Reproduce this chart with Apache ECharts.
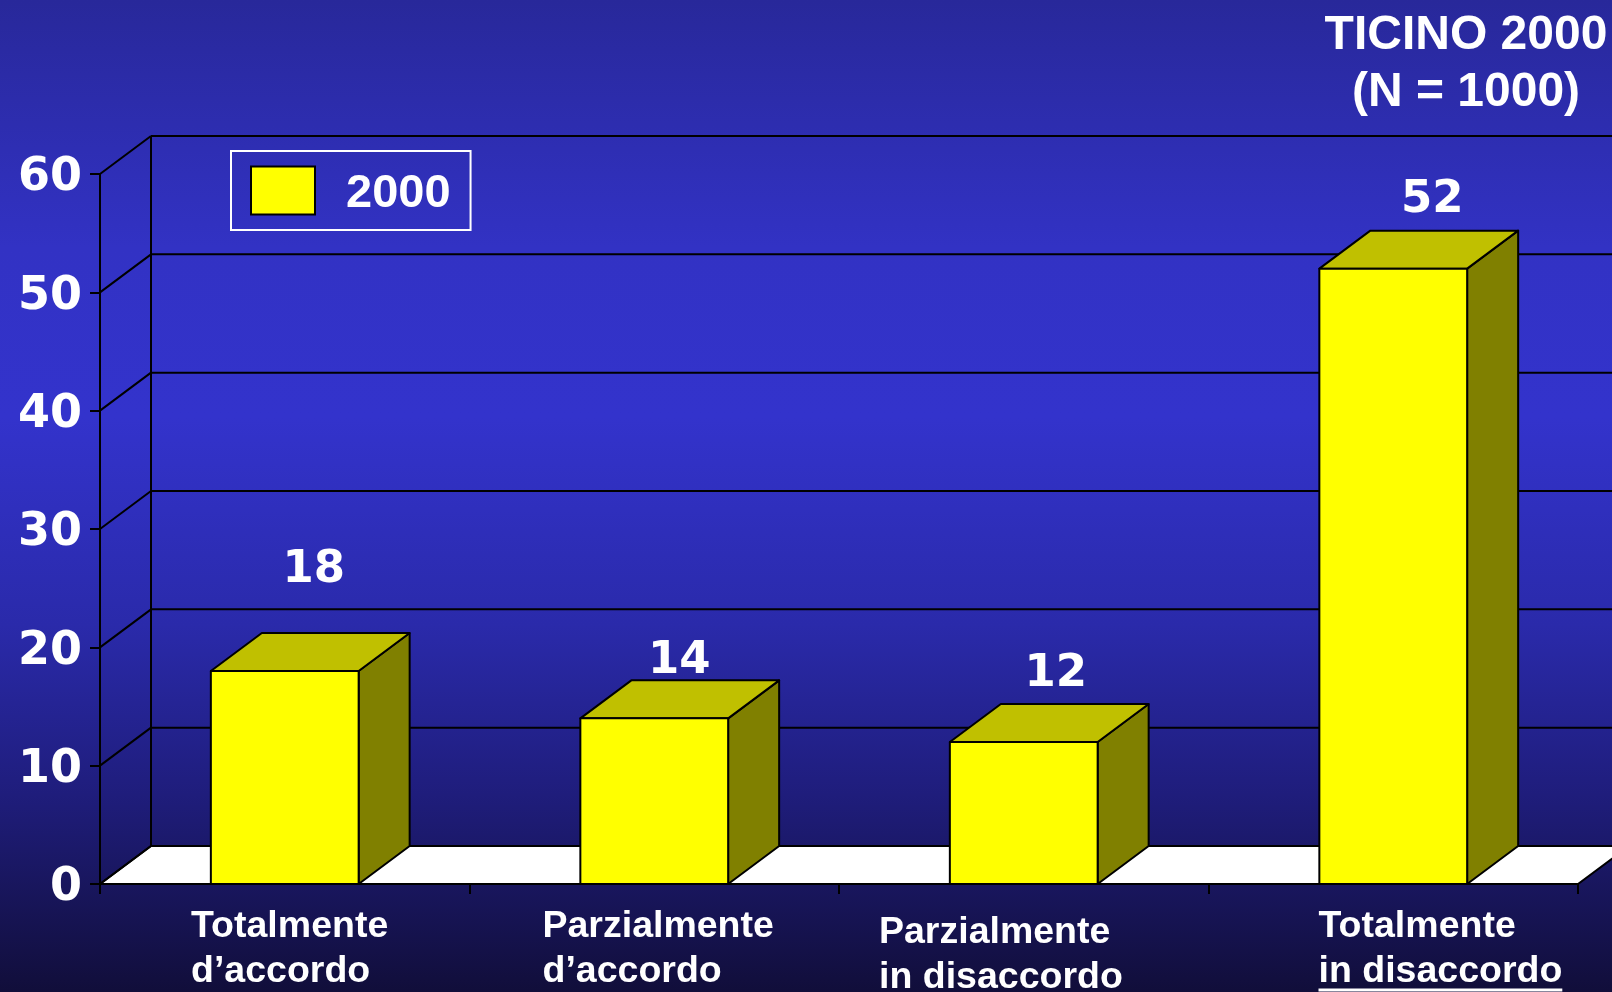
<!DOCTYPE html>
<html>
<head>
<meta charset="utf-8">
<script src="https://cdn.jsdelivr.net/npm/echarts@6/dist/echarts.min.js"></script>
<style>
html, body { margin: 0; padding: 0; }
#chart { width: 1612px; height: 992px; }
</style>
</head>
<body>
<div id="chart"></div>
<script>
// data
var categories = [
	['Totalmente', 'd\u2019accordo'],
	['Parzialmente', 'd\u2019accordo'],
	['Parzialmente', 'in disaccordo'],
	['Totalmente', 'in disaccordo']
];
var values2000 = [18, 14, 12, 52];
var yTicks = [0, 10, 20, 30, 40, 50, 60];
var seriesName = '2000';
var titleLines = ['TICINO 2000', '(N = 1000)'];

// 3d depth of the walls and bars
var DX = 51, DY = -38;
// hand placed label shifts as in the original slide
var valueLabelShift = [[29, -101], [25, -57], [32, -68], [39, -68]];
var catLabelLeft = [91, 73, 40, 110];
var catLabelTop = [0, 0, 6, 0];

var catFont = 'bold 37.5px "Liberation Sans", Arial, sans-serif';
var measureCtx = document.createElement('canvas').getContext('2d');
measureCtx.font = catFont;

var chart = echarts.init(document.getElementById('chart'));

function renderFrame(params, api) {
	var cs = params.coordSys;
	var x0 = cs.x, x1 = cs.x + cs.width;
	var yBottom = cs.y + cs.height;
	var children = [];
	var line = function(ax, ay, bx, by) {
		children.push({
			type: 'line',
			shape: { x1: ax, y1: ay, x2: bx, y2: by },
			style: { stroke: '#000', lineWidth: 2 }
		});
	};
	// floor
	children.push({
		type: 'polygon',
		shape: { points: [[x0, yBottom], [x1, yBottom], [x1 + DX, yBottom + DY], [x0 + DX, yBottom + DY]] },
		style: { fill: '#ffffff', stroke: '#000', lineWidth: 2 }
	});
	for (var i = 0; i < yTicks.length; i++) {
		var y = api.coord([0, yTicks[i]])[1];
		line(x0, y, x0 + DX, y + DY);
		line(x0 + DX, y + DY, x1 + DX + 40, y + DY);
	}
	line(x0 + DX, cs.y + DY, x0 + DX, yBottom + DY);
	return { type: 'group', children: children };
}

function renderBar(params, api) {
	var i = api.value(0);
	var top = api.coord([i, api.value(1)]);
	var base = api.coord([i, 0]);
	var band = api.size([1, 0])[0];
	var w = band * 0.4;
	var xl = top[0] - w / 2, xr = top[0] + w / 2;
	var yt = top[1], yb = base[1];
	var edge = { stroke: '#000', lineWidth: 2, lineJoin: 'round' };
	var children = [
		{
			type: 'polygon',
			shape: { points: [[xr, yt], [xr + DX, yt + DY], [xr + DX, yb + DY], [xr, yb]] },
			style: Object.assign({ fill: '#808000' }, edge)
		},
		{
			type: 'polygon',
			shape: { points: [[xl, yt], [xr, yt], [xr + DX, yt + DY], [xl + DX, yt + DY]] },
			style: Object.assign({ fill: '#c0c000' }, edge)
		},
		{
			type: 'rect',
			shape: { x: xl, y: yt, width: w, height: yb - yt },
			style: Object.assign({ fill: '#ffff00' }, edge)
		},
		{
			type: 'text',
			x: top[0] + valueLabelShift[i][0],
			y: yt + valueLabelShift[i][1],
			style: {
				text: String(api.value(1)),
				fill: '#ffffff',
				font: 'bold 45px "DejaVu Sans", Verdana, sans-serif',
				align: 'center',
				verticalAlign: 'middle'
			}
		}
	];
	// category label under the axis
	var lx = base[0] - band / 2 + catLabelLeft[i];
	var ly = yb + 20 + catLabelTop[i];
	children.push({
		type: 'text',
		x: lx,
		y: ly,
		style: {
			text: categories[i].join('\n'),
			fill: '#ffffff',
			font: catFont,
			lineHeight: 45,
			align: 'left',
			verticalAlign: 'top'
		}
	});
	if (i === categories.length - 1) {
		var uw = measureCtx.measureText(categories[i][1]).width;
		children.push({
			type: 'line',
			shape: { x1: lx, y1: ly + 86, x2: lx + uw, y2: ly + 86 },
			style: { stroke: '#ffffff', lineWidth: 3 }
		});
	}
	return { type: 'group', children: children };
}

var option = {
	backgroundColor: {
		type: 'linear', x: 0, y: 0, x2: 0, y2: 1,
		colorStops: [
			{ offset: 0, color: '#28289a' },
			{ offset: 0.25, color: '#3232c4' },
			{ offset: 0.42, color: '#3333cc' },
			{ offset: 0.63, color: '#2a2aaa' },
			{ offset: 0.8, color: '#1f1d7c' },
			{ offset: 1, color: '#110e3a' }
		]
	},
	animation: false,
	graphic: [{
		type: 'text',
		x: 1466,
		y: 7,
		style: {
			text: titleLines.join('\n'),
			fill: '#ffffff',
			font: 'bold 48px "Liberation Sans", Arial, sans-serif',
			lineHeight: 57,
			align: 'center',
			verticalAlign: 'top'
		}
	}],
	legend: {
		left: 231,
		top: 151,
		orient: 'horizontal',
		padding: [12, 20, 12, 19],
		borderColor: '#ffffff',
		borderWidth: 2,
		itemWidth: 64,
		itemHeight: 48,
		data: [{
			name: seriesName,
			icon: 'rect',
			itemStyle: { color: '#ffff00', borderColor: '#000', borderWidth: 2 }
		}],
		formatter: '{t|{name}}',
		textStyle: {
			rich: {
				t: {
					color: '#ffffff',
					fontFamily: '"Liberation Sans", Arial, sans-serif',
					fontWeight: 'bold',
					fontSize: 47,
					lineHeight: 40,
					padding: [8, 0, 0, 26]
				}
			}
		}
	},
	grid: {
		left: 100,
		right: 34,
		top: 174,
		bottom: 108,
		containLabel: false
	},
	xAxis: {
		type: 'category',
		data: categories.map(function(c) { return c.join(' '); }),
		boundaryGap: true,
		axisLine: { lineStyle: { color: '#000', width: 2 } },
		axisTick: { show: true, length: 10, lineStyle: { color: '#000', width: 2 } },
		axisLabel: { show: false },
		splitLine: { show: false }
	},
	yAxis: {
		type: 'value',
		min: 0,
		max: 60,
		interval: 10,
		axisLine: { show: true, lineStyle: { color: '#000', width: 2 } },
		axisTick: { show: true, length: 10, lineStyle: { color: '#000', width: 2 } },
		axisLabel: {
			margin: 18,
			formatter: '{v|{value}}',
			rich: {
				v: {
					color: '#ffffff',
					fontFamily: '"DejaVu Sans", Verdana, sans-serif',
					fontWeight: 'bold',
					fontSize: 46,
					lineHeight: 50,
					padding: [9, 0, 0, 0]
				}
			}
		},
		splitLine: { show: false }
	},
	series: [
		{
			name: 'frame',
			type: 'custom',
			renderItem: renderFrame,
			data: [[0, 0]],
			silent: true,
			z: 1
		},
		{
			name: seriesName,
			type: 'custom',
			renderItem: renderBar,
			itemStyle: { color: '#ffff00' },
			data: values2000.map(function(v, i) { return [i, v]; }),
			z: 3
		}
	]
};
chart.setOption(option);
</script>
</body>
</html>
